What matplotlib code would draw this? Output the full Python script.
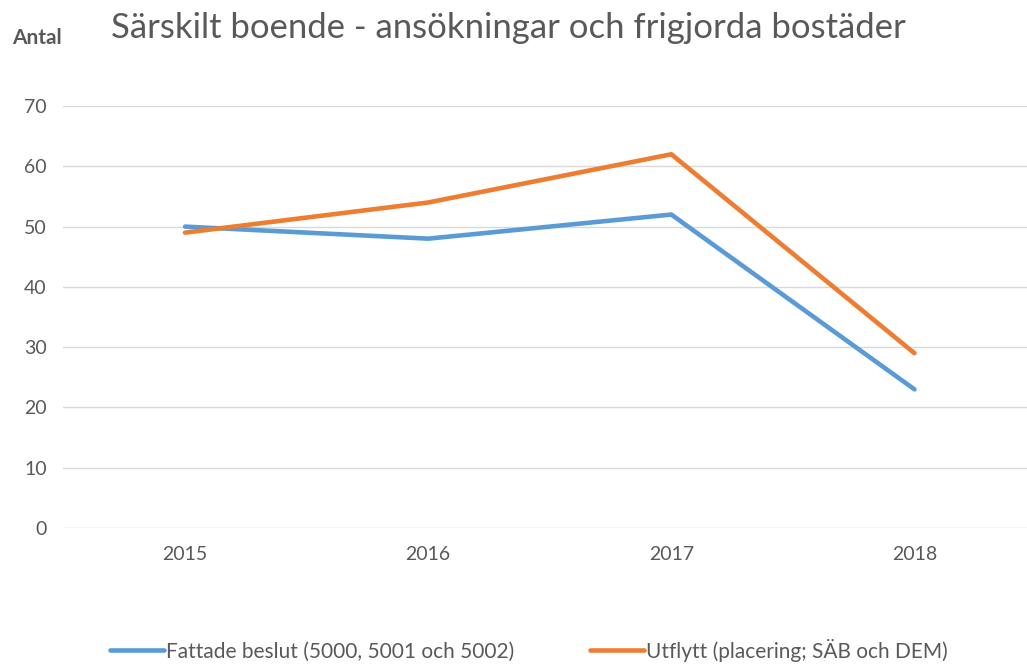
import matplotlib.pyplot as plt

years = ["2015", "2016", "2017", "2018"]
beslut = [50, 48, 52, 23]
utflytt = [49, 54, 62, 29]
yticks = [0, 10, 20, 30, 40, 50, 60, 70]

plt.rcParams['font.family'] = ['Lato', 'DejaVu Sans']
grey = "#595959"

fig = plt.figure(figsize=(10.27, 6.64), dpi=100)
ax = fig.add_axes([0.0618, 0.2048, 0.947, 0.6355])

x = range(len(years))
ax.plot(x, beslut, color="#5B9BD5", lw=3.3, solid_capstyle="round",
        label="Fattade beslut (5000, 5001 och 5002)")
ax.plot(x, utflytt, color="#ED7D31", lw=3.3, solid_capstyle="round",
        label="Utflytt (placering; SÄB och DEM)")

ax.set_xlim(-0.5, 3.5)
ax.set_ylim(0, 70)
ax.set_xticks(list(x))
ax.set_xticklabels(years)
ax.set_yticks(yticks)
ax.grid(axis="y", color="#D9D9D9", lw=1)
ax.set_axisbelow(True)
for s in ax.spines.values():
    s.set_visible(False)
ax.tick_params(length=0, labelsize=14, colors=grey)
ax.tick_params(axis="y", pad=12)
ax.tick_params(axis="x", pad=13)

fig.text(0.495, 0.958, "Särskilt boende - ansökningar och frigjorda bostäder",
         ha="center", va="center", fontsize=24.9, color=grey)
fig.text(0.012, 0.943, "Antal", ha="left", va="center", fontsize=15,
         fontweight="bold", color=grey)

fig.legend(loc="center", bbox_to_anchor=(0.515, 0.021), ncol=2, frameon=False,
           fontsize=15, handlelength=2.6, handletextpad=0.1, columnspacing=3.6,
           labelcolor=grey)

fig.savefig("out.png", dpi=100)
